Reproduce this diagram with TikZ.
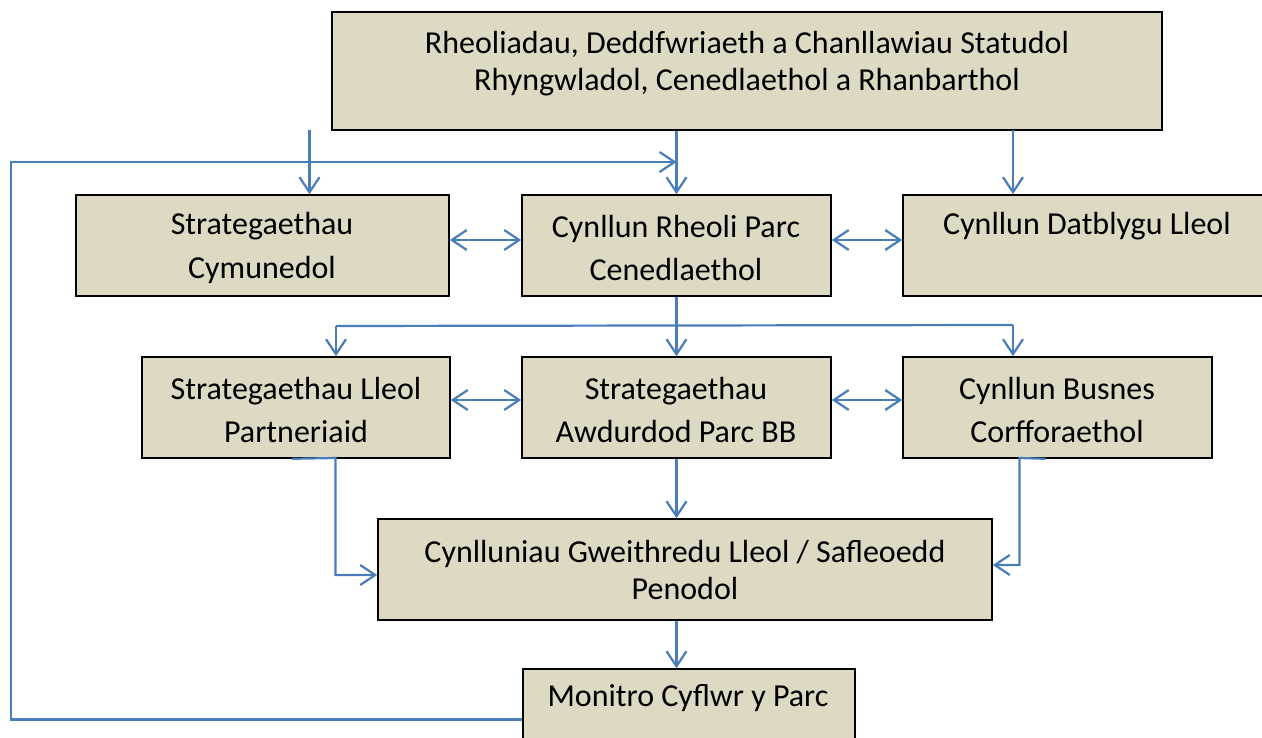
\documentclass[tikz,border=0pt]{standalone}
\usepackage{fontspec}
\setmainfont{Carlito}
\usetikzlibrary{arrows.meta}
\definecolor{boxfill}{RGB}{221,217,195}
\definecolor{linkblue}{RGB}{74,126,187}
\begin{document}
\begin{tikzpicture}[x=1pt,y=-1pt,
  box/.style={draw=black, line width=1.6pt, fill=boxfill, inner sep=0pt, minimum height=101pt},
  txt/.style={align=center, inner sep=0pt, font=\fontsize{32}{37}\selectfont},
  barb/.tip={Straight Barb[length=15pt,width=20pt]},
  link/.style={draw=linkblue, line width=2.2pt},
  conn/.style={link, -barb},
  both/.style={link, barb-barb}]
\useasboundingbox (0,0) rectangle (1262,738);
\clip (0,0) rectangle (1262,738);

% boxes
\node[box, minimum width=830pt, minimum height=118pt] (reg) at (747,71) {};
\node[box, minimum width=373pt] (cym) at (262.5,245.5) {};
\node[box, minimum width=309pt] (crp) at (676.5,245.5) {};
\node[box, minimum width=368pt] (cdl) at (1087,245.5) {};
\node[box, minimum width=308pt] (slp) at (296,407.5) {};
\node[box, minimum width=309pt] (awd) at (676.5,407.5) {};
\node[box, minimum width=309pt] (cbc) at (1057.5,407.5) {};
\node[box, minimum width=614pt] (gwl) at (685,569.5) {};
\node[box, minimum width=332pt] (mon) at (689,719.5) {};

% texts
\node[txt] (regT) at (747,63.5) {Rheoliadau, Deddfwriaeth a Chanllawiau Statudol\\Rhyngwladol, Cenedlaethol a Rhanbarthol};
\node[txt] (cymT) at (262,248) {Strategaethau\\[6.5pt]Cymunedol};
\node[txt] (crpT) at (676,248) {Cynllun Rheoli Parc\\[6.5pt]Cenedlaethol};
\node[txt] (cdlT) at (1087,226) {Cynllun Datblygu Lleol};
\node[txt] (slpT) at (296,410) {Strategaethau Lleol\\[6.5pt]Partneriaid};
\node[txt] (awdT) at (676,410) {Strategaethau\\[6.5pt]Awdurdod Parc BB};
\node[txt] (cbcT) at (1057,410) {Cynllun Busnes\\[6.5pt]Corfforaethol};
\node[txt] (gwlT) at (685,569.5) {Cynlluniau Gweithredu Lleol / Safleoedd\\Penodol};
\node[txt] (monT) at (688,698) {Monitro Cyflwr y Parc};

% helper points
\coordinate (cymIn) at (309.5,130);
\coordinate (cdlIn) at (1013,130);
\coordinate (fbk) at (11,162);
\coordinate (bl) at (336,326);
\coordinate (br) at (1013,325);

% top level flows
\draw[conn] (crp.north |- reg.south) -- (crp.north);
\draw[conn] (cdlIn) -- (cdlIn |- cdl.north);
\draw[conn] (cymIn) -- (cymIn |- cym.north);
\draw[conn] (mon.west) -| (fbk) -- (fbk -| crp.north);

% row two exchanges
\draw[both] (cym.east |- 0,240) -- (crp.west |- 0,240);
\draw[both] (crp.east |- 0,240) -- (cdl.west |- 0,240);

% branch to row three
\draw[conn] (crp.south) -- (awd.north);
\draw[link] (bl) -- (br);
\draw[conn] (bl) -- (bl |- slp.north);
\draw[conn] (br) -- (br |- cbc.north);

% row three exchanges
\draw[both] (slp.east |- 0,400) -- (awd.west |- 0,400);
\draw[both] (awd.east |- 0,400) -- (cbc.west |- 0,400);

% into the action plans
\draw[conn] (awd.south) -- (awd.south |- gwl.north);
\draw[conn] ([xshift=-4pt]slp.south) -- (335.5,458) |- (gwl.west |- 0,575);
\draw[conn] ([xshift=-12pt]cbc.south) -- (1019.5,458) |- (gwl.east |- 0,565);

% monitoring
\draw[conn] (gwl.south -| crp.south) -- (mon.north -| crp.south);
\end{tikzpicture}
\end{document}
